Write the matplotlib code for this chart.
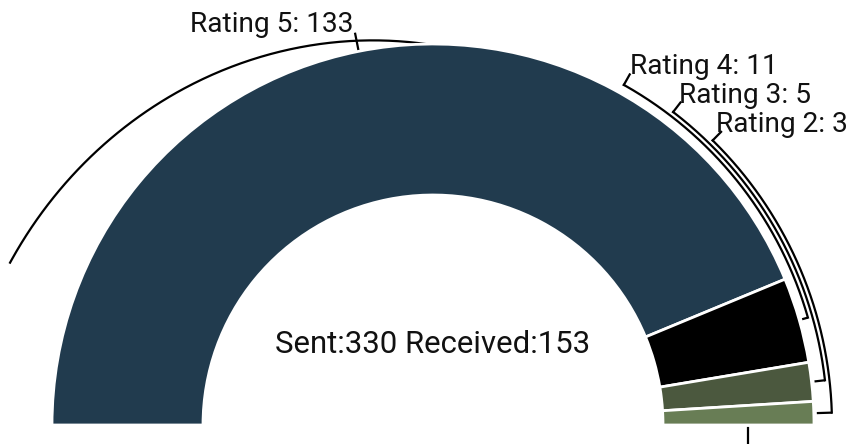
import numpy as np
import matplotlib
matplotlib.use("Agg")
import matplotlib.pyplot as plt
from matplotlib.patches import Wedge

# ---- data ----
ratings = ["Rating 5", "Rating 4", "Rating 3", "Rating 2"]
counts = [133, 11, 5, 3]
sent = 330
received = 153
colors = ["#213b4e", "#000000", "#4b583e", "#687d55"]

plt.rcParams["font.family"] = ["Roboto", "DejaVu Sans"]

W, H = 848, 444
fig = plt.figure(figsize=(W / 100, H / 100), dpi=100)
ax = fig.add_axes([0, 0, 1, 1])
ax.set_xlim(0, W)
ax.set_ylim(0, H)
ax.axis("off")

cx, cy = 433, 19
R, Rin = 381, 230
total = sum(counts)

# wedges, clockwise from 180 deg
start = 180.0
mids = []
for lab, v, c in zip(ratings, counts, colors):
    span = 180.0 * v / total
    t2 = start
    t1 = start - span
    ax.add_patch(Wedge((cx, cy), R, t1, t2, width=R - Rin, facecolor=c,
                       edgecolor="white", linewidth=2, zorder=3))
    mids.append((t1 + t2) / 2)
    start = t1

def pol(r, th):
    th = np.radians(th)
    return cx + r * np.cos(th), cy + r * np.sin(th)

lw = 1.6
fs_lab = 20.2

# Rating 5: radial tick at mid angle, label right-aligned
x0, y0 = pol(R, mids[0])
x1, y1 = pol(R + 19, mids[0])
ax.plot([x0, x1], [y0, y1], color="black", lw=lw, zorder=2, solid_capstyle="butt")
ax.text(x1 - 1, y1 + 1, f"{ratings[0]}: {counts[0]}", ha="right", va="baseline",
        fontsize=fs_lab, color="#111111", zorder=5)

# long spiral line on the left (label line continuing off canvas)
th = np.linspace(88, 159, 300)
rr = R + 1 + 1.06 * (th - 92)
sx, sy = pol(rr, th)
ax.plot(sx, sy, color="black", lw=lw, zorder=2)

# right-side labels: arcs from slice mid angle up to label angle
label_angles = [60.7, 52.5, 45.5]
arc_offsets = [9, 13.5, 18]
text_dx = [0, -1, -5]
for i, (la, off, dx) in enumerate(zip(label_angles, arc_offsets, text_dx), start=1):
    m = mids[i]
    ra = R + off
    xa, ya = pol(R + 3, m)
    xb, yb = pol(ra, m)
    ax.plot([xa, xb], [ya, yb], color="black", lw=lw, zorder=2, solid_capstyle="butt")
    t = np.linspace(m, la, 200)
    ax_, ay_ = pol(ra, t)
    ax.plot(ax_, ay_, color="black", lw=lw, zorder=2)
    xe, ye = pol(ra + 12, la)
    ax.plot([ax_[-1], xe], [ay_[-1], ye], color="black", lw=lw, zorder=2)
    ax.text(xe + dx, ye, f"{ratings[i]}: {counts[i]}", ha="left", va="baseline",
            fontsize=fs_lab, color="#111111", zorder=5)

# stub of an off-canvas label line at the bottom
ax.plot([cx + 0.827 * R, cx + 0.827 * R], [cy - 3, -10], color="black", lw=lw, zorder=2)

# center text
ax.text(cx, 91, f"Sent:{sent} Received:{received}", ha="center", va="baseline",
        fontsize=22.4, color="#111111", zorder=5)

fig.savefig("out.png", dpi=100)
